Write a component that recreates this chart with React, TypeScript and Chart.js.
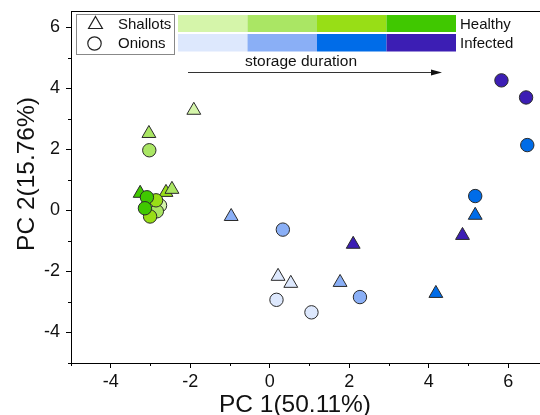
import React, { useEffect, useRef } from "react";
import { Chart, registerables } from "chart.js";
Chart.register(...registerables);

// Stage colours: healthy (H1..H4) and infected (I1..I4) over storage duration
const healthyStages = ["H1", "H2", "H3", "H4"];
const infectedStages = ["I1", "I2", "I3", "I4"];
const stageColors: Record<string, string> = {
  H1: "#d5f5aa",
  H2: "#aae664",
  H3: "#98de16",
  H4: "#40c800",
  I1: "#dde8fd",
  I2: "#8aaff6",
  I3: "#006ce8",
  I4: "#3c1eb4",
};

// Shallots (triangles)
const shallotPC1 = [-1.91, -3.04, -3.26, -2.61, -2.46, -0.97, 0.21, 0.53, 1.77, 2.1, 4.18, 4.85, 5.17];
const shallotPC2 = [3.28, 2.52, 0.56, 0.59, 0.69, -0.2, -2.16, -2.39, -2.36, -1.11, -2.72, -0.82, -0.16];
const shallotStage = ["H1", "H2", "H4", "H3", "H2", "I2", "I1", "I1", "I2", "I4", "I3", "I4", "I3"];

// Onions (circles)
const onionPC1 = [-3.03, -2.76, -2.84, -2.86, -3.01, -3.09, -3.14, 0.33, 0.17, 1.05, 2.27, 5.17, 6.48, 5.83, 6.45];
const onionPC2 = [1.97, 0.16, -0.03, 0.33, -0.2, 0.43, 0.07, -0.63, -2.93, -3.34, -2.84, 0.47, 2.14, 4.26, 3.7];
const onionStage = ["H2", "H1", "H2", "H3", "H3", "H4", "H4", "I2", "I1", "I1", "I2", "I3", "I3", "I4", "I4"];

const xTitle = "PC 1(50.11%)";
const yTitle = "PC 2(15.76%)";
const legendLabels = ["Shallots", "Onions"];
const barLabels = ["Healthy", "Infected"];
const arrowLabel = "storage duration";

const FONT = "'Liberation Sans', Arial, sans-serif";

const decorPlugin = {
  id: "decor",
  afterDraw(chart: any) {
    const ctx = chart.ctx;
    const ca = chart.chartArea;
    const xs = chart.scales.x;
    const ys = chart.scales.y;
    ctx.save();
    // top frame
    ctx.strokeStyle = "#000";
    ctx.lineWidth = 1;
    ctx.beginPath();
    ctx.moveTo(ca.left, Math.round(ca.top) - 0.5);
    ctx.lineTo(ca.right, Math.round(ca.top) - 0.5);
    ctx.stroke();
    // minor ticks
    ctx.beginPath();
    for (let v = -5; v <= 6; v += 2) {
      const px = Math.round(xs.getPixelForValue(v)) + 0.5;
      ctx.moveTo(px, ca.bottom);
      ctx.lineTo(px, ca.bottom + 3);
      const py = Math.round(ys.getPixelForValue(v)) + 0.5;
      ctx.moveTo(ca.left, py);
      ctx.lineTo(ca.left - 3, py);
    }
    ctx.stroke();

    // legend box
    ctx.strokeStyle = "#888";
    ctx.strokeRect(76.5, 14.5, 98, 40);
    ctx.strokeStyle = "#222";
    ctx.lineWidth = 1.2;
    // triangle symbol
    const tx = 95.5, ty = 24.5, tr = 8;
    ctx.beginPath();
    for (let i = 0; i < 3; i++) {
      const a = (i * 2 * Math.PI) / 3;
      const px = tx + Math.sin(a) * tr;
      const py = ty - Math.cos(a) * tr;
      if (i === 0) ctx.moveTo(px, py);
      else ctx.lineTo(px, py);
    }
    ctx.closePath();
    ctx.stroke();
    // circle symbol
    ctx.beginPath();
    ctx.arc(94.5, 43.5, 6.7, 0, Math.PI * 2);
    ctx.stroke();
    ctx.fillStyle = "#111";
    ctx.font = `15px ${FONT}`;
    ctx.textBaseline = "middle";
    ctx.textAlign = "left";
    ctx.fillText(legendLabels[0], 118, 25);
    ctx.fillText(legendLabels[1], 118, 44);

    // colour bars
    const bx = 178, bw = 69.5;
    healthyStages.forEach((s, i) => {
      ctx.fillStyle = stageColors[s];
      ctx.fillRect(bx + i * bw, 15, bw, 17);
    });
    infectedStages.forEach((s, i) => {
      ctx.fillStyle = stageColors[s];
      ctx.fillRect(bx + i * bw, 34, bw, 17.5);
    });
    ctx.fillStyle = "#111";
    ctx.fillText(barLabels[0], 460, 24.5);
    ctx.fillText(barLabels[1], 460, 43.5);

    // storage duration arrow
    ctx.textAlign = "center";
    ctx.font = `15.5px ${FONT}`;
    ctx.fillText(arrowLabel, 301, 62);
    ctx.strokeStyle = "#333";
    ctx.lineWidth = 1;
    ctx.beginPath();
    ctx.moveTo(188, 72.5);
    ctx.lineTo(434, 72.5);
    ctx.stroke();
    ctx.fillStyle = "#111";
    ctx.beginPath();
    ctx.moveTo(442, 72.5);
    ctx.lineTo(431, 69.5);
    ctx.lineTo(431, 75.5);
    ctx.closePath();
    ctx.fill();

    // axis titles
    ctx.fillStyle = "#111";
    ctx.font = `24.5px ${FONT}`;
    ctx.textAlign = "center";
    ctx.textBaseline = "middle";
    ctx.fillText(xTitle, 295, 405);
    ctx.translate(27.5, 174);
    ctx.rotate(-Math.PI / 2);
    ctx.fillText(yTitle, 0, 0);
    ctx.restore();
  },
};

const zeroPad = (s: any) => {
  s.paddingLeft = 0;
  s.paddingRight = 0;
  s.paddingTop = 0;
  s.paddingBottom = 0;
};

export default function App() {
  const ref = useRef<HTMLCanvasElement>(null);
  useEffect(() => {
    document.body.style.margin = "0";
    const shallots = shallotPC1.map((x, i) => ({ x, y: shallotPC2[i] }));
    const onions = onionPC1.map((x, i) => ({ x, y: onionPC2[i] }));
    const chart = new Chart(ref.current as HTMLCanvasElement, {
      type: "scatter",
      data: {
        datasets: [
          {
            label: legendLabels[1],
            data: onions,
            pointStyle: "circle",
            pointRadius: 6.7,
            pointBackgroundColor: onionStage.map((s) => stageColors[s]),
            pointBorderColor: "#2a2a2a",
            pointBorderWidth: 1,
          },
          {
            label: legendLabels[0],
            data: shallots,
            pointStyle: "triangle",
            pointRadius: 8,
            pointBackgroundColor: shallotStage.map((s) => stageColors[s]),
            pointBorderColor: "#2a2a2a",
            pointBorderWidth: 1,
          },
        ],
      },
      options: {
        responsive: false,
        animation: false,
        events: [],
        layout: { autoPadding: false, padding: { top: 12, right: 0, left: 0, bottom: 0 } },
        plugins: { legend: { display: false }, tooltip: { enabled: false } },
        scales: {
          x: {
            type: "linear",
            min: -5,
            max: 6.8,
            afterFit: (s: any) => {
              s.height = 52;
              zeroPad(s);
            },
            border: { color: "#000", width: 1 },
            grid: {
              drawOnChartArea: false,
              drawTicks: true,
              tickLength: 5,
              tickColor: (c: any) => (Math.abs(c.tick?.value) % 2 === 0 ? "#000" : "rgba(0,0,0,0)"),
            },
            ticks: {
              stepSize: 1,
              includeBounds: false,
              autoSkip: false,
              maxRotation: 0,
              padding: 3,
              color: "#111",
              font: { family: FONT, size: 18 },
              callback: (v: any) => (Number(v) % 2 === 0 ? String(v) : ""),
            },
          },
          y: {
            type: "linear",
            min: -5,
            max: 6.5,
            afterFit: (s: any) => {
              s.width = 71;
              zeroPad(s);
            },
            border: { color: "#000", width: 1 },
            grid: {
              drawOnChartArea: false,
              drawTicks: true,
              tickLength: 5,
              tickColor: (c: any) => (Math.abs(c.tick?.value) % 2 === 0 ? "#000" : "rgba(0,0,0,0)"),
            },
            ticks: {
              stepSize: 1,
              includeBounds: false,
              autoSkip: false,
              padding: 6,
              color: "#111",
              font: { family: FONT, size: 18 },
              callback: (v: any) => (Number(v) % 2 === 0 ? String(v) : ""),
            },
          },
        },
      },
      plugins: [decorPlugin],
    });
    return () => chart.destroy();
  }, []);
  return (
    <div style={{ width: 540, height: 415 }}>
      <canvas ref={ref} width={540} height={415} />
    </div>
  );
}
